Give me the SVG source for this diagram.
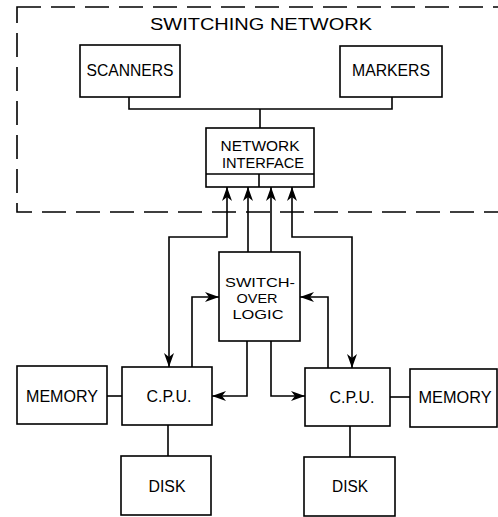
<svg xmlns="http://www.w3.org/2000/svg" width="498" height="517" viewBox="0 0 498 517">
<style>
.box{fill:#fff;stroke:#000;stroke-width:1.6}
.ln{fill:none;stroke:#000;stroke-width:1.6}
.arr{fill:none;stroke:#000;stroke-width:1.6;marker-end:url(#ah)}
.arr2{fill:none;stroke:#000;stroke-width:1.6;marker-end:url(#ah);marker-start:url(#ahs)}
text{font-family:"Liberation Sans",Arial,sans-serif;font-size:16px;fill:#000;text-anchor:middle}
text.sm{font-size:14px}
text.xs{font-size:13.5px}
</style>
<defs>
<marker id="ah" markerUnits="userSpaceOnUse" markerWidth="14" markerHeight="10" viewBox="0 0 14 10" refX="14" refY="5" orient="auto"><path d="M0,0 L14,5 L0,10 L4,5 z" fill="#000"/></marker>
<marker id="ahs" markerUnits="userSpaceOnUse" markerWidth="14" markerHeight="10" viewBox="0 0 14 10" refX="14" refY="5" orient="auto-start-reverse"><path d="M0,0 L14,5 L0,10 L4,5 z" fill="#000"/></marker>
</defs>
<rect width="498" height="517" fill="#fff"/>
<g id="switching-network">
<rect x="17" y="7" width="500" height="205" fill="none" stroke="#000" stroke-width="1.6" stroke-dasharray="24 10"/>
<text x="261" y="30" textLength="222" lengthAdjust="spacingAndGlyphs">SWITCHING NETWORK</text>
</g>
<g id="connectors">
<path class="ln" d="M129,97 V109 H392 V97"/>
<path class="ln" d="M260,109 V128"/>
<path class="arr2" d="M169,367 V237 H227 V187"/>
<path class="arr" d="M248,252 V187"/>
<path class="arr" d="M271,252 V187"/>
<path class="arr2" d="M352,368 V237 H292 V187"/>
<path class="arr" d="M192,367 V297 H219"/>
<path class="arr" d="M328,368 V297 H300"/>
<path class="arr" d="M247,341 V396 H212"/>
<path class="arr" d="M271,341 V396 H305"/>
<path class="ln" d="M107,396 H122"/>
<path class="ln" d="M390,397 H410"/>
<path class="ln" d="M168,425 V456"/>
<path class="ln" d="M350,426 V457"/>
</g>
<g id="scanners">
<rect class="box" x="80" y="45" width="100" height="52"/>
<text x="130" y="76" textLength="87" lengthAdjust="spacingAndGlyphs">SCANNERS</text>
</g>
<g id="markers">
<rect class="box" x="340" y="46" width="102" height="51"/>
<text x="391" y="76" textLength="78" lengthAdjust="spacingAndGlyphs">MARKERS</text>
</g>
<g id="network-interface">
<rect class="box" x="206" y="128" width="108" height="59"/>
<path class="ln" d="M206,174 H314 M259,174 V187"/>
<text class="sm" x="260" y="151" textLength="79" lengthAdjust="spacingAndGlyphs">NETWORK</text>
<text class="sm" x="263" y="168" textLength="82" lengthAdjust="spacingAndGlyphs">INTERFACE</text>
</g>
<g id="switchover-logic">
<rect class="box" x="219" y="252" width="81" height="89"/>
<text class="xs" x="260" y="287" textLength="70" lengthAdjust="spacingAndGlyphs">SWITCH-</text>
<text class="xs" x="257" y="303" textLength="41" lengthAdjust="spacingAndGlyphs">OVER</text>
<text class="xs" x="258" y="319" textLength="51" lengthAdjust="spacingAndGlyphs">LOGIC</text>
</g>
<g id="memory-left">
<rect class="box" x="17" y="366" width="90" height="58"/>
<text x="62" y="402" textLength="72" lengthAdjust="spacingAndGlyphs">MEMORY</text>
</g>
<g id="cpu-left">
<rect class="box" x="122" y="367" width="90" height="58"/>
<text x="169" y="402" textLength="45" lengthAdjust="spacingAndGlyphs">C.P.U.</text>
</g>
<g id="disk-left">
<rect class="box" x="121" y="456" width="90" height="59"/>
<text x="167" y="492" textLength="37" lengthAdjust="spacingAndGlyphs">DISK</text>
</g>
<g id="cpu-right">
<rect class="box" x="305" y="368" width="85" height="58"/>
<text x="352" y="403" textLength="45" lengthAdjust="spacingAndGlyphs">C.P.U.</text>
</g>
<g id="memory-right">
<rect class="box" x="410" y="369" width="87" height="58"/>
<text x="455" y="403" textLength="73" lengthAdjust="spacingAndGlyphs">MEMORY</text>
</g>
<g id="disk-right">
<rect class="box" x="304" y="457" width="91" height="59"/>
<text x="350" y="492" textLength="36" lengthAdjust="spacingAndGlyphs">DISK</text>
</g>
</svg>
